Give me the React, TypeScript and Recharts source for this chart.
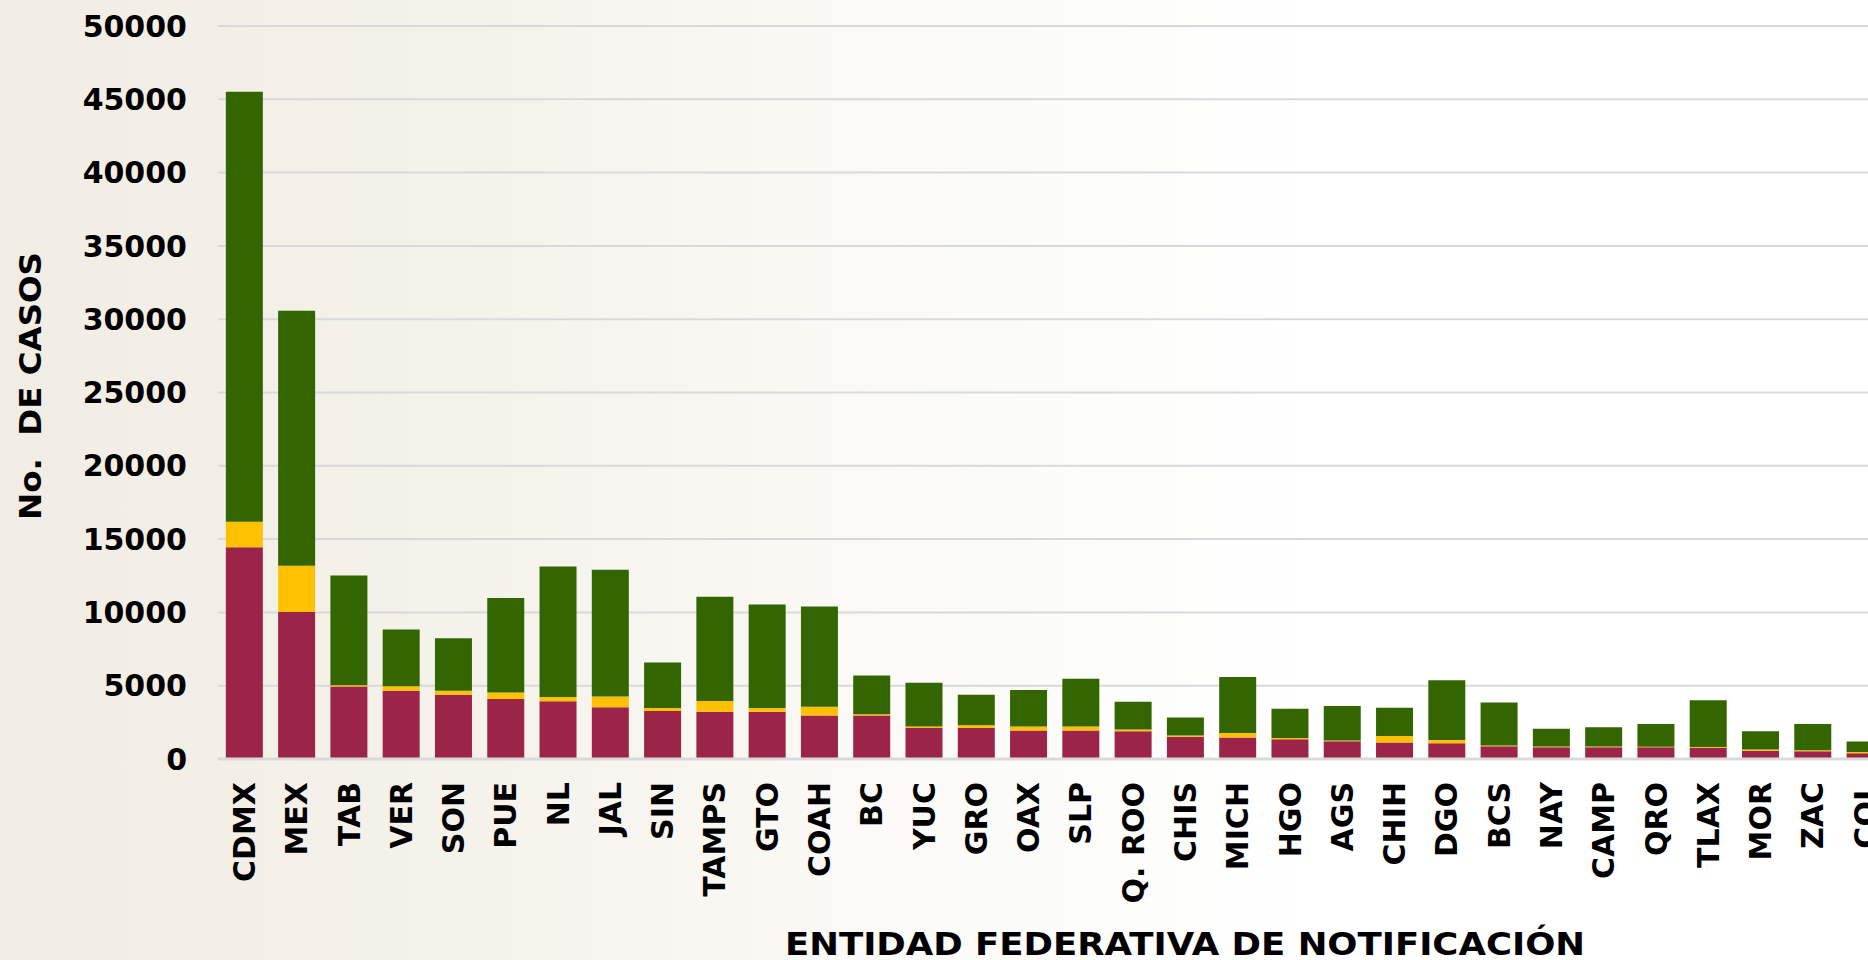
import React from 'react';
import { BarChart, Bar, XAxis, YAxis, CartesianGrid } from 'recharts';

const categories = ['CDMX', 'MEX', 'TAB', 'VER', 'SON', 'PUE', 'NL', 'JAL', 'SIN', 'TAMPS', 'GTO', 'COAH', 'BC', 'YUC', 'GRO', 'OAX', 'SLP', 'Q. ROO', 'CHIS', 'MICH', 'HGO', 'AGS', 'CHIH', 'DGO', 'BCS', 'NAY', 'CAMP', 'QRO', 'TLAX', 'MOR', 'ZAC', 'COL'];
const confirmados = [14450, 10030, 4950, 4660, 4390, 4100, 3940, 3530, 3280, 3230, 3230, 2960, 2960, 2120, 2120, 1940, 1940, 1900, 1510, 1460, 1350, 1210, 1120, 1070, 870, 800, 800, 800, 750, 570, 530, 390];
const sospechosos = [1730, 3150, 80, 300, 270, 430, 290, 730, 200, 730, 250, 610, 90, 90, 190, 270, 270, 110, 90, 320, 90, 50, 450, 230, 50, 50, 50, 30, 70, 70, 70, 90];
const negativos = [29340, 17390, 7490, 3880, 3580, 6460, 8900, 8650, 3100, 7100, 7060, 6830, 2650, 2990, 2080, 2490, 3270, 1890, 1230, 3810, 1990, 2350, 1920, 4070, 2940, 1210, 1320, 1550, 3180, 1260, 1780, 710];
const yTicks = [0, 5000, 10000, 15000, 20000, 25000, 30000, 35000, 40000, 45000, 50000];

const data = categories.map((c, i) => ({
  estado: c,
  confirmados: confirmados[i],
  sospechosos: sospechosos[i],
  negativos: negativos[i],
}));

const FONT = '"DejaVu Sans", sans-serif';

const XTick = (props: any) => {
  const { x, y, payload } = props;
  const yy = y + 15;
  return (
    <text
      x={x}
      y={yy}
      transform={`rotate(-90 ${x} ${yy})`}
      textAnchor="end"
      dy="0.36em"
      fontFamily={FONT}
      fontWeight={700}
      fontSize={30}
      fill="#000"
    >
      {payload.value}
    </text>
  );
};

export default function App() {
  return (
    <div
      style={{
        position: 'fixed',
        left: 0,
        top: 0,
        width: 1868,
        height: 960,
        overflow: 'hidden',
        background: 'linear-gradient(90deg, #f1ede4 0%, #f5f2eb 25%, #faf9f5 45%, #ffffff 70%, #ffffff 100%)',
      }}
    >
      <BarChart
        width={1891}
        height={960}
        data={data}
        margin={{ top: 26, right: 0, bottom: 1, left: 0 }}
        barCategoryGap="15%"
      >
        <CartesianGrid vertical={false} stroke="#d9d9d9" strokeWidth={2} />
        <XAxis
          dataKey="estado"
          height={200}
          interval={0}
          tickLine={false}
          axisLine={{ stroke: '#d9d9d9', strokeWidth: 3 }}
          tick={<XTick />}
        />
        <YAxis
          width={218}
          domain={[0, 50000]}
          ticks={yTicks}
          interval={0}
          axisLine={false}
          tickLine={false}
          tickSize={0}
          tickMargin={31}
          tick={{ fontFamily: FONT, fontWeight: 700, fontSize: 30, fill: '#000' }}
        />
        <Bar dataKey="confirmados" stackId="a" fill="#9d2449" isAnimationActive={false} />
        <Bar dataKey="sospechosos" stackId="a" fill="#ffc000" isAnimationActive={false} />
        <Bar dataKey="negativos" stackId="a" fill="#336600" isAnimationActive={false} />
      </BarChart>
      <svg
        width={1868}
        height={960}
        style={{ position: 'absolute', left: 0, top: 0, pointerEvents: 'none' }}
      >
        <text
          x={30}
          y={386}
          transform="rotate(-90 30 386)"
          textAnchor="middle"
          dy="0.36em"
          fontFamily={FONT}
          fontWeight={700}
          fontSize={31}
          fill="#000"
          textLength={268}
          lengthAdjust="spacingAndGlyphs"
          style={{ whiteSpace: 'pre' }}
        >
          {'No.  DE CASOS'}
        </text>
        <text
          x={1185}
          y={955}
          textAnchor="middle"
          fontFamily={FONT}
          fontWeight={700}
          fontSize={32}
          fill="#000"
          textLength={800}
          lengthAdjust="spacingAndGlyphs"
        >
          ENTIDAD FEDERATIVA DE NOTIFICACIÓN
        </text>
      </svg>
    </div>
  );
}
